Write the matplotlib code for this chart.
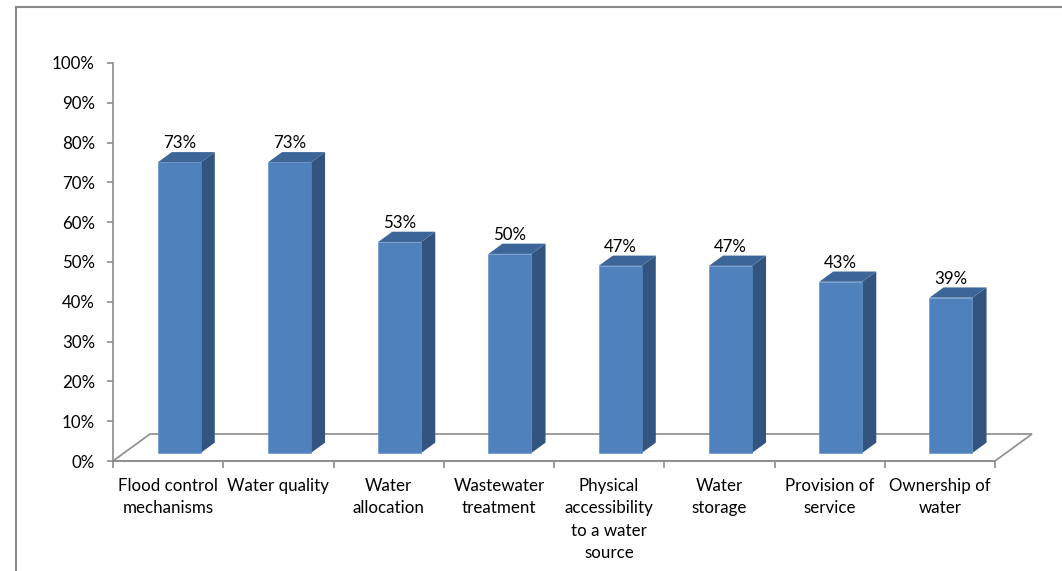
import matplotlib
matplotlib.use("Agg")
import matplotlib.pyplot as plt
from matplotlib.patches import Polygon
from matplotlib.lines import Line2D
import numpy as np

categories = ["Flood control\nmechanisms", "Water quality", "Water\nallocation",
              "Wastewater\ntreatment", "Physical\naccessibility\nto a water\nsource",
              "Water\nstorage", "Provision of\nservice", "Ownership of\nwater"]
values = [73, 73, 53, 50, 47, 47, 43, 39]
value_labels = ["73%", "73%", "53%", "50%", "47%", "47%", "43%", "39%"]
yticks = [0, 10, 20, 30, 40, 50, 60, 70, 80, 90, 100]
ytick_labels = ["0%", "10%", "20%", "30%", "40%", "50%", "60%", "70%", "80%", "90%", "100%"]

plt.rcParams['font.family'] = ['Lato', 'DejaVu Sans']

W, H = 1062, 571
fig = plt.figure(figsize=(W / 100, H / 100), dpi=100)
fig.patch.set_facecolor("white")

# axes: x from 113 px to 995 px, y 0% at 461 px, 100% at 63 px
ax = fig.add_axes([113 / W, (H - 461) / H, (995 - 113) / W, (461 - 63) / H])
n = len(categories)
ax.set_xlim(-0.5, n - 0.5)
ax.set_ylim(0, 100)
ax.patch.set_alpha(0)

px_x = (995 - 113) / n          # pixels per category
px_y = (461 - 63) / 100.0       # pixels per percent
DX = 37 / px_x                  # floor depth in data x
DY = 27 / px_y                  # floor depth in data y

grey = "#8c8c8c"
fs = 12.2
# floor
floor = Polygon([(-0.5, 0), (n - 0.5, 0), (n - 0.5 + DX, DY), (-0.5 + DX, DY)],
                closed=True, facecolor="none", edgecolor=grey, lw=1.2,
                clip_on=False, zorder=1)
ax.add_patch(floor)

front_col = "#4f81bd"
side_col = "#32547e"
top_col = "#3c6698"
f0 = 0.30
fd = 0.38
bw = 0.39
ox, oy = f0 * DX, f0 * DY
dx, dy = fd * DX, fd * DY

xs = np.arange(n)
bars = ax.bar(xs + ox, values, bottom=oy, width=bw, color=front_col,
              edgecolor="#5a8ac4", linewidth=0.4, zorder=3, clip_on=False)
for x, v, lab in zip(xs, values, value_labels):
    x0 = x + ox - bw / 2
    x1 = x + ox + bw / 2
    ytop = v + oy
    side = Polygon([(x1, oy), (x1 + dx, oy + dy), (x1 + dx, ytop + dy), (x1, ytop)],
                   closed=True, facecolor=side_col, edgecolor="none", zorder=2.9,
                   clip_on=False)
    top = Polygon([(x0, ytop), (x1, ytop), (x1 + dx, ytop + dy), (x0 + dx, ytop + dy)],
                  closed=True, facecolor=top_col, edgecolor="none", zorder=2.9,
                  clip_on=False)
    ax.add_patch(side)
    ax.add_patch(top)
    ax.annotate(lab, (x + ox, ytop + dy), xytext=(0, 0.5), textcoords="offset points",
                ha="center", va="bottom", fontsize=fs, color="black", zorder=5)

# spines
for s in ["top", "right"]:
    ax.spines[s].set_visible(False)
ax.spines["left"].set_color(grey)
ax.spines["bottom"].set_color(grey)
ax.spines["left"].set_linewidth(1.2)
ax.spines["bottom"].set_linewidth(1.2)

ax.set_yticks(yticks)
ax.set_yticklabels(ytick_labels, fontsize=fs)
ax.tick_params(axis="y", length=4, width=1.2, color=grey, pad=9)

ax.set_xticks(xs)
ax.set_xticklabels(categories, fontsize=fs, linespacing=1.5)
ax.tick_params(axis="x", which="major", length=0, pad=12)
ax.set_xticks(np.arange(-0.5, n, 1.0), minor=True)
ax.tick_params(axis="x", which="minor", length=5, width=1.2, color=grey)

# chart border
fig.add_artist(Line2D([16 / W, 16 / W], [0, (H - 7) / H], color="#8a8a8a", lw=1.5,
                      transform=fig.transFigure))
fig.add_artist(Line2D([16 / W, 1], [(H - 7) / H, (H - 7) / H], color="#8a8a8a", lw=1.5,
                      transform=fig.transFigure))

fig.savefig("out.png", dpi=100, facecolor="white")
